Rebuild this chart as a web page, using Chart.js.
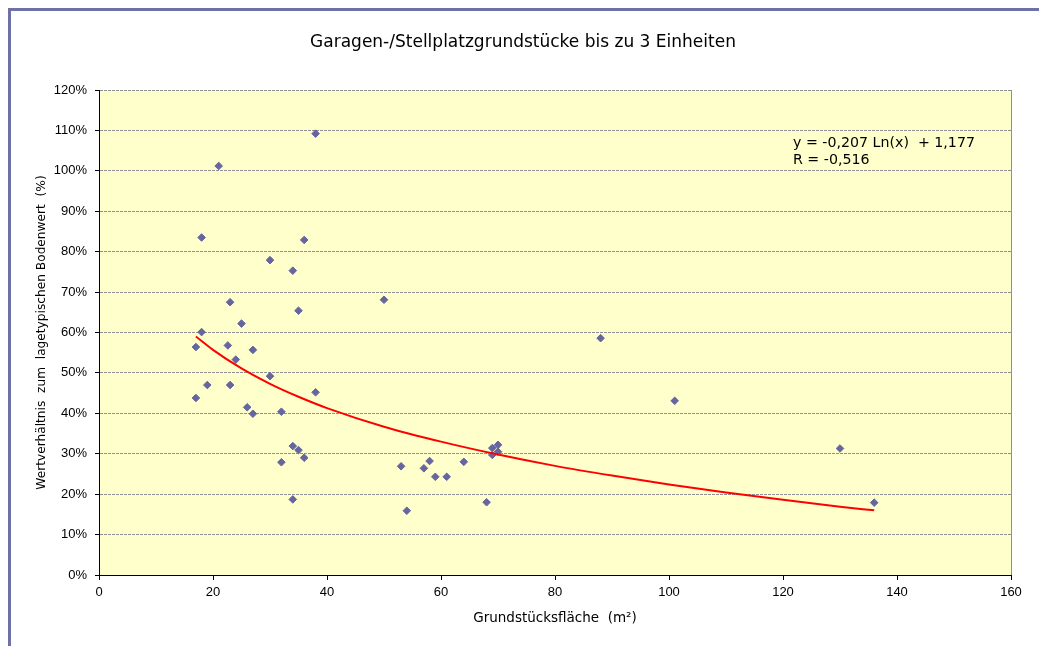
<!DOCTYPE html>
<html>
<head>
<meta charset="utf-8">
<script src="https://cdn.jsdelivr.net/npm/chart.js@4/dist/chart.umd.min.js"></script>
<style>
  body { margin: 0; background: #fff; }
  canvas { display: block; }
</style>
</head>
<body>
<canvas id="chart" width="1039" height="646"></canvas>
<script>
// Grundstücksfläche (m²) and Wertverhältnis (%) of each sale
const areaValues = [38, 21, 18, 36, 30, 34, 23, 50, 35, 25, 18, 17, 22.6, 27, 24, 30, 19, 23, 38, 17, 26, 27, 32,
    34, 35, 36, 32, 34, 53, 54, 57, 58, 59, 61, 64, 68, 69, 70, 70, 69, 88, 101, 130, 136];
const ratioValues = [109.2, 101.2, 83.5, 82.9, 77.9, 75.3, 67.5, 68.1, 65.4, 62.2, 60.1, 56.4, 56.8, 55.7, 53.3, 49.2,
    47.0, 47.0, 45.2, 43.8, 41.5, 39.9, 40.4, 31.9, 30.9, 29.0, 27.9, 18.7, 26.9, 15.9, 26.4, 28.2, 24.3, 24.3, 28.0,
    18.0, 31.4, 32.2, 30.5, 29.7, 58.6, 43.1, 31.3, 17.9];

// logarithmic trend line
const trendX = [17, 20, 25, 30, 35, 40, 50, 60, 70, 80, 90, 100, 110, 120, 130, 136];
const trendY = [59.0, 55.7, 51.1, 47.3, 44.1, 41.3, 36.7, 33.0, 29.8, 27.0, 24.6, 22.4, 20.4, 18.6, 16.9, 16.0];

const chartTitle = 'Garagen-/Stellplatzgrundstücke bis zu 3 Einheiten';
const xTitle = 'Grundstücksfläche  (m²)';
const yTitle = 'Wertverhältnis  zum  lagetypischen Bodenwert  (%)';
const equationLines = ['y = -0,207 Ln(x)  + 1,177', 'R = -0,516'];

const points = areaValues.map((x, i) => ({ x: x, y: ratioValues[i] }));
const trend = trendX.map((x, i) => ({ x: x, y: trendY[i] }));

const textFont = '"DejaVu Sans", Verdana, sans-serif';
const tickFont = '"Liberation Sans", Arial, sans-serif';

const decorPlugin = {
    id: 'decor',
    beforeDraw(chart) {
        const ctx = chart.ctx;
        const a = chart.chartArea;
        ctx.save();
        ctx.fillStyle = '#ffffff';
        ctx.fillRect(0, 0, chart.width, chart.height);
        ctx.fillStyle = '#ffffcc';
        ctx.fillRect(a.left, a.top, a.right - a.left, a.bottom - a.top);
        ctx.restore();
    },
    afterDraw(chart) {
        const ctx = chart.ctx;
        const a = chart.chartArea;
        ctx.save();
        // right edge of plot area
        ctx.strokeStyle = '#909090';
        ctx.lineWidth = 1;
        ctx.beginPath();
        ctx.moveTo(a.right + 0.5, a.top);
        ctx.lineTo(a.right + 0.5, a.bottom);
        ctx.stroke();

        // outer frame
        ctx.strokeStyle = '#7070a8';
        ctx.lineWidth = 3;
        ctx.beginPath();
        ctx.moveTo(9.5, chart.height);
        ctx.lineTo(9.5, 9.5);
        ctx.lineTo(chart.width, 9.5);
        ctx.stroke();

        // title
        ctx.fillStyle = '#000';
        ctx.textAlign = 'center';
        ctx.textBaseline = 'middle';
        ctx.font = '17px ' + textFont;
        ctx.fillText(chartTitle, 523, 43);

        // trend equation
        ctx.textAlign = 'left';
        ctx.font = '14.2px ' + textFont;
        equationLines.forEach((line, i) => {
            ctx.fillText(line, a.left + 694, a.top + 53 + i * 17);
        });
        ctx.restore();
    }
};

new Chart(document.getElementById('chart'), {
    type: 'scatter',
    data: {
        datasets: [
            {
                label: 'Trend',
                data: trend,
                showLine: true,
                borderColor: '#ff0000',
                borderWidth: 2,
                pointRadius: 0,
                cubicInterpolationMode: 'monotone',
                order: 0
            },
            {
                label: 'Verkäufe',
                data: points,
                pointStyle: 'rectRot',
                pointRadius: 3.8,
                borderWidth: 1,
                backgroundColor: '#66669e',
                borderColor: '#66669e',
                order: 1
            }
        ]
    },
    options: {
        responsive: false,
        animation: false,
        layout: { padding: { left: 10, top: 90, right: 28, bottom: 0 } },
        plugins: {
            legend: { display: false },
            tooltip: { enabled: false }
        },
        scales: {
            x: {
                type: 'linear',
                min: 0,
                max: 160,
                afterFit: (scale) => { scale.height = 71; },
                ticks: {
                    stepSize: 20,
                    color: '#000',
                    padding: 5,
                    font: { family: tickFont, size: 13 }
                },
                grid: {
                    drawOnChartArea: false,
                    drawTicks: true,
                    tickLength: 5,
                    tickColor: '#000'
                },
                border: { color: '#000', width: 1 },
                title: {
                    display: true,
                    text: xTitle,
                    color: '#000',
                    font: { family: textFont, size: 13.5 },
                    padding: { top: 0, bottom: 19 }
                }
            },
            y: {
                min: 0,
                max: 120,
                afterFit: (scale) => { scale.width = 89; },
                ticks: {
                    stepSize: 10,
                    color: '#000',
                    padding: 8,
                    font: { family: tickFont, size: 13 },
                    callback: (value) => value + '%'
                },
                grid: {
                    color: (c) => (c.tick && c.tick.value === 0 ? 'rgba(0,0,0,0)' : '#909090'),
                    tickLength: 4,
                    tickColor: '#000'
                },
                border: { color: '#000', width: 1, dash: [3, 1] },
                title: {
                    display: true,
                    text: yTitle,
                    color: '#000',
                    font: { family: textFont, size: 12.2 },
                    padding: { top: 25, bottom: 0 }
                }
            }
        }
    },
    plugins: [decorPlugin]
});
</script>
</body>
</html>
